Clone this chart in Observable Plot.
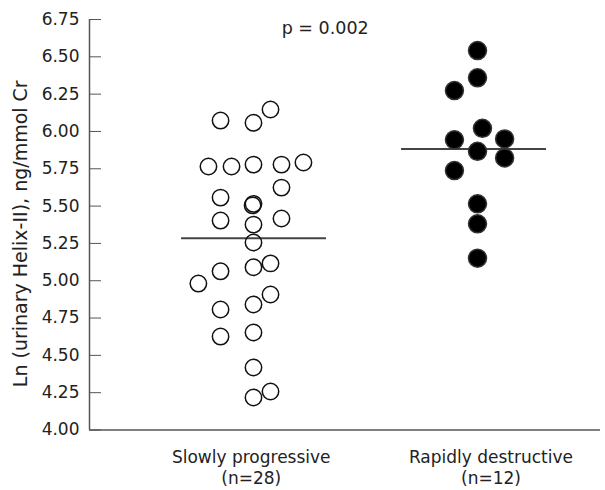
<!DOCTYPE html>
<html><head><meta charset="utf-8">
<script src="https://cdn.jsdelivr.net/npm/d3@7"></script>
<script src="https://cdn.jsdelivr.net/npm/@observablehq/plot@0.6"></script>
<style>body{margin:0;background:#fff} #chart{width:605px;height:490px}</style>
</head><body><div id="chart"></div>
<script>
// Categories
const groups = ["Slowly progressive", "Rapidly destructive"];
const groupCounts = ["(n=28)", "(n=12)"];
const groupPos = [1, 2];
const labelPos = [0.99, 2.06];

// Slowly progressive (open circles): value and horizontal jitter (in category units)
const slowValues = [6.073, 6.058, 6.147, 5.765, 5.765, 5.778, 5.778, 5.792, 5.624, 5.557,
  5.515, 5.505, 5.403, 5.376, 5.417, 5.256, 5.063, 5.090, 5.116, 4.981,
  4.807, 4.841, 4.908, 4.626, 4.653, 4.419, 4.218, 4.258];
const slowJitter = [-0.147, 0, 0.076, -0.201, -0.098, 0, 0.125, 0.223, 0.125, -0.147,
  0, -0.004, -0.147, 0, 0.125, 0, -0.147, 0, 0.076, -0.246,
  -0.147, 0, 0.076, -0.147, 0, 0, 0, 0.076];

// Rapidly destructive (filled circles)
const rapidValues = [6.542, 6.359, 6.274, 6.021, 5.944, 5.950, 5.867, 5.823, 5.738, 5.515, 5.381, 5.151];
const rapidJitter = [0, 0, -0.103, 0.022, -0.103, 0.121, 0, 0.121, -0.103, 0, 0, 0];

// Group summary lines
const lineValues = [5.285, 5.883];
const lineStart = [0.679, 1.661];
const lineEnd = [1.326, 2.308];

// Axis
const yTicks = [4.00, 4.25, 4.50, 4.75, 5.00, 5.25, 5.50, 5.75, 6.00, 6.25, 6.50, 6.75];
const yLabel = "Ln (urinary Helix-II), ng/mmol Cr";
const pText = "p = 0.002";
const pPos = {x: 1.32, y: 6.689};
const xDomain = [0.268, 2.549];

const slow = slowValues.map((v, i) => ({x: groupPos[0] + slowJitter[i], y: v}));
const rapid = rapidValues.map((v, i) => ({x: groupPos[1] + rapidJitter[i], y: v}));
const lines = lineValues.map((v, i) => ({y: v, x1: lineStart[i], x2: lineEnd[i]}));
const catLabels = labelPos.map((p, i) => groups[i] + "\n" + groupCounts[i]);

const chart = Plot.plot({
  width: 605,
  height: 490,
  marginLeft: 89,
  marginRight: 5,
  marginTop: 19,
  marginBottom: 60.5,
  style: {fontFamily: "DejaVu Sans", fontSize: "17px", color: "#222", background: "#fff"},
  x: {domain: xDomain},
  y: {domain: [4, 6.75]},
  marks: [
    Plot.axisY({ticks: yTicks, tickSize: -12, tickPadding: 22, tickFormat: d3.format(".2f"),
      label: null, fontSize: 17, stroke: "#555", fill: "#222"}),
    Plot.axisX({ticks: labelPos, tickSize: 0, tickPadding: 19, label: null, fontSize: 17,
      lineHeight: 1.2, fill: "#222",
      tickFormat: d => catLabels[labelPos.indexOf(d)]}),
    Plot.ruleY([4], {stroke: "#555", strokeWidth: 1.5}),
    Plot.ruleX([xDomain[0]], {y1: 4, y2: 6.75, stroke: "#555", strokeWidth: 1.5}),
    Plot.ruleY(lines, {y: "y", x1: "x1", x2: "x2", stroke: "#444", strokeWidth: 2}),
    Plot.dot(slow, {x: "x", y: "y", r: 8.2, stroke: "#111", strokeWidth: 1.5, fill: "none"}),
    Plot.dot(rapid, {x: "x", y: "y", r: 9, stroke: "#333", strokeWidth: 1.5, fill: "#000"}),
    Plot.text([pText], {x: pPos.x, y: pPos.y, text: d => d, fontSize: 17.5, fill: "#222"}),
    Plot.text([yLabel], {frameAnchor: "left", textAnchor: "middle", rotate: -90, dx: -69, dy: 9,
      text: d => d, fontSize: 19, fill: "#222", style: "letter-spacing:2.6px"})
  ]
});
document.getElementById("chart").appendChild(chart);
</script>
</body></html>
